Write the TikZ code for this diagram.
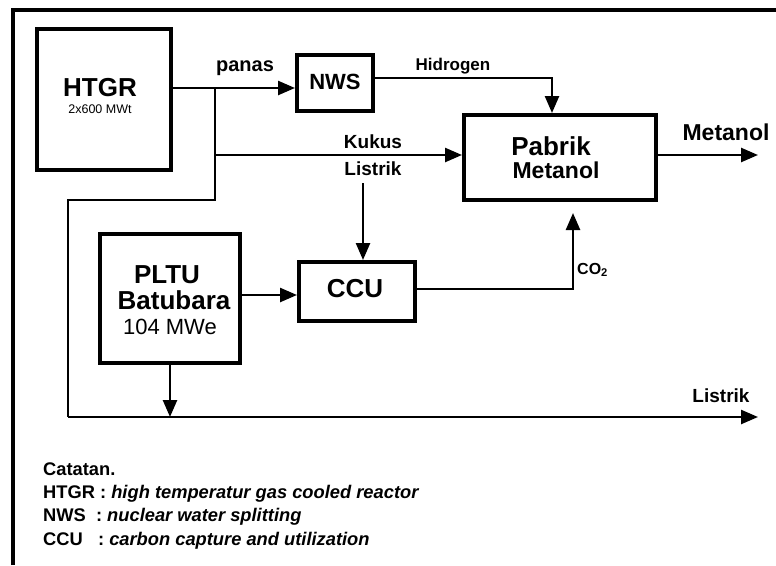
\documentclass[tikz,border=0pt]{standalone}
\usepackage{fontspec}
\setmainfont{Liberation Sans}
\usetikzlibrary{arrows.meta}
\newcommand\myfs[1]{\fontsize{#1}{#1}\selectfont}
\begin{document}
\begin{tikzpicture}[x=1pt,y=-1pt,
  box/.style={draw,line width=4pt,inner sep=0pt},
  conn/.style={line width=2.5pt},
  arr/.style={conn,-{Triangle[length=17pt,width=14pt]}},
  txt/.style={anchor=base,inner sep=0pt,font=\bfseries\myfs{19}},
  note/.style={anchor=base west,inner sep=0pt,font=\bfseries\myfs{18.3}}]
\useasboundingbox (0,0) rectangle (776,565);
\fill[white] (0,0) rectangle (776,565);
% outer frame
\draw[line width=4.5pt] (13,565) -- (13,10) -- (776,10);
% boxes
\node[box,minimum width=134pt,minimum height=141pt] (htgr) at (104,99.5) {};
\node[box,minimum width=76pt,minimum height=56pt] (nws) at (335,83) {};
\node[box,minimum width=192pt,minimum height=85pt] (pabrik) at (560,157.5) {};
\node[box,minimum width=140pt,minimum height=129pt] (pltu) at (170,298.5) {};
\node[box,minimum width=116pt,minimum height=59pt] (ccu) at (357,291.5) {};
% texts in boxes
\node[txt,font=\bfseries\myfs{26}] (thtgr) at (100,96) {HTGR};
\node[txt,font=\myfs{12.5}] (tmwt) at (100,113) {2x600 MWt};
\node[txt,font=\bfseries\myfs{22}] (tnws) at (335,89) {NWS};
\node[txt,font=\bfseries\myfs{26}] (tpab) at (551,155) {Pabrik};
\node[txt,font=\bfseries\myfs{23}] (tmet) at (556,178) {Metanol};
\node[txt,font=\bfseries\myfs{26}] (tpltu) at (167,283) {PLTU};
\node[txt,font=\bfseries\myfs{26}] (tbat) at (174,309) {Batubara};
\node[txt,font=\myfs{22}] (tmwe) at (170,334) {104 MWe};
\node[txt,font=\bfseries\myfs{26}] (tccu) at (355,297) {CCU};
% junction coordinates
\coordinate (j1) at (215,88);
\coordinate (j2) at (215,155);
\coordinate (j3) at (215,200);
\coordinate (j4) at (68,200);
\coordinate (j5) at (68,417);
\coordinate (lout) at (758,417);
\coordinate (mout) at (758,155);
\coordinate (hc) at (552,78);
\coordinate (cc) at (573,289);
\coordinate (ls) at (363,183);
\coordinate (pc) at (245,295);
% connectors
\draw[arr] (htgr.east |- j1) -- (nws.west |- j1);
\draw[conn] (j1) -- (j3) -- (j4) -- (j5);
\draw[arr] (j5) -- (lout);
\draw[arr] (j2) -- (pabrik.west |- j2);
\draw[arr] (nws.east |- hc) -- (hc) -- (pabrik.north -| hc);
\draw[arr] (pabrik.east |- mout) -- (mout);
\draw[arr] (ls) -- (ccu.north -| ls);
\draw[arr] (pltu.east |- pc) -- (ccu.west |- pc);
\draw[arr,shorten >=11pt] (ccu.east |- cc) -- (cc) -- (pabrik.south -| cc);
\draw[arr] (pltu.south) -- (pltu.south |- j5);
% labels
\node[txt,font=\bfseries\myfs{20}] (lpanas) at (245,71) {panas};
\node[txt,font=\bfseries\myfs{17}] (lhid) at (453,70) {Hidrogen};
\node[txt,font=\bfseries\myfs{23}] (lmet) at (726,140) {Metanol};
\node[txt] (lkuk) at (373,148) {Kukus};
\node[txt] (llis) at (373,175) {Listrik};
\node[anchor=base west,inner sep=0pt,font=\bfseries\myfs{16}] (lco) at (577,274) {CO\textsubscript{2}};
\node[txt] (llis2) at (721,402) {Listrik};
% notes
\node[note] (n0) at (43,475) {Catatan.};
\node[note] (n1) at (43,498) {HTGR : \textit{high temperatur gas cooled reactor}};
\node[note] (n2) at (43,521) {NWS~ : \textit{nuclear water splitting}};
\node[note] (n3) at (43,545) {CCU~~ : \textit{carbon capture and utilization}};
\end{tikzpicture}
\end{document}
